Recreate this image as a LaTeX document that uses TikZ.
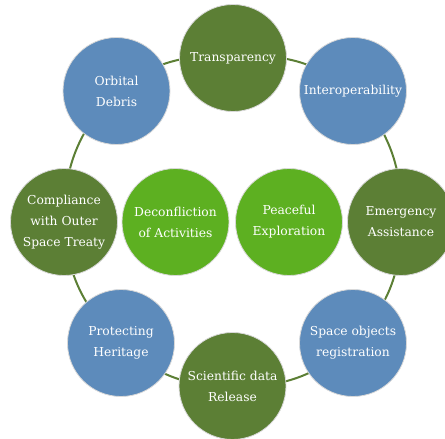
\documentclass[tikz,border=0pt]{standalone}
\usepackage{fontspec}
\setmainfont{DejaVu Serif}
\usetikzlibrary{backgrounds}
\definecolor{olive}{HTML}{5C7F35}
\definecolor{sky}{HTML}{5D8BBB}
\definecolor{lime}{HTML}{5DB021}
\tikzset{
  bub/.style={circle, minimum size=107pt, inner sep=0pt, draw=white!85!black, line width=0.8pt,
    text=white, align=center, font=\fontsize{12.3}{21}\selectfont},
  ob/.style={bub, fill=olive},
  bb/.style={bub, fill=sky},
  lb/.style={bub, fill=lime},
  link/.style={draw=olive, line width=2pt}
}
\begin{document}
\begin{tikzpicture}[x=1pt,y=1pt]
\useasboundingbox (0,0) rectangle (445,439);
\clip (0,0) rectangle (445,439);
\node[ob] (tr) at (233,381) {Transparency};
\node[bb] (od) at (116.5,348) {Orbital\\Debris};
\node[bb] (io) at (353,348) {Interoperability};
\node[ob] (co) at (64,217) {Compliance\\with Outer\\Space Treaty};
\node[lb] (de) at (175.5,217) {Deconfliction\\of Activities};
\node[lb] (pe) at (289,217) {Peaceful\\Exploration};
\node[ob] (em) at (401,217) {Emergency\\Assistance};
\node[bb] (ph) at (121,96) {Protecting\\Heritage};
\node[bb] (so) at (353,96) {Space objects\\registration};
\node[ob] (sd) at (232.5,53) {Scientific data\\Release};
\begin{pgfonlayer}{background}
\draw[link] (tr.center) to[bend left=22] (io.center);
\draw[link] (io.center) to[bend left=22] (em.center);
\draw[link] (em.center) to[bend left=22] (so.center);
\draw[link] (so.center) to[bend left=22] (sd.center);
\draw[link] (sd.center) to[bend left=22] (ph.center);
\draw[link] (ph.center) to[bend left=22] (co.center);
\draw[link] (co.center) to[bend left=22] (od.center);
\draw[link] (od.center) to[bend left=22] (tr.center);
\end{pgfonlayer}
\end{tikzpicture}
\end{document}
